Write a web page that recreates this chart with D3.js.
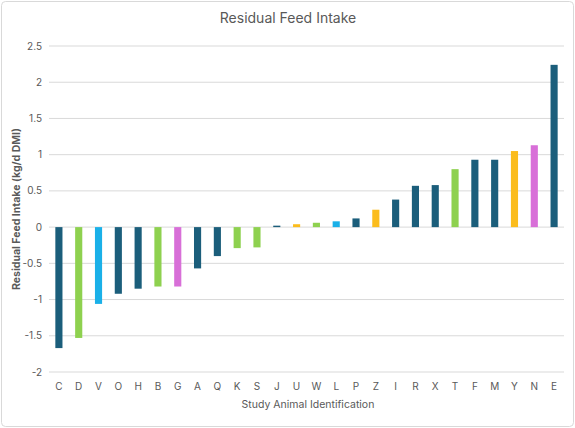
<!DOCTYPE html>
<html><head><meta charset="utf-8">
<script src="https://cdn.jsdelivr.net/npm/d3@7"></script>
<style>body{margin:0;background:#fff;font-family:Inter,"Open Sans",sans-serif}</style>
</head><body><svg id="chart" width="575" height="428"></svg>
<script>
var animals = ["C","D","V","O","H","B","G","A","Q","K","S","J","U","W","L","P","Z","I","R","X","T","F","M","Y","N","E"];
var rfi = [-1.67,-1.53,-1.06,-0.92,-0.85,-0.82,-0.82,-0.57,-0.40,-0.29,-0.28,0.02,0.04,0.06,0.08,0.12,0.24,0.38,0.57,0.58,0.80,0.93,0.93,1.05,1.13,2.24];
var groups = ["dark","green","cyan","dark","dark","green","pink","dark","dark","green","green","dark","yellow","green","cyan","dark","yellow","dark","dark","dark","green","dark","dark","yellow","pink","dark"];
var yTicks = [-2,-1.5,-1,-0.5,0,0.5,1,1.5,2,2.5];

var colors = {dark:"#1b5e7b", green:"#8ed14f", cyan:"#1ab0e8", pink:"#d86fd8", yellow:"#fbbc1c"};
var svg = d3.select("#chart");
svg.append("rect").attr("x",1.5).attr("y",1.5).attr("width",572).attr("height",425)
  .attr("rx",4).attr("fill","#fff").attr("stroke","#d9d9d9");

var x = d3.scaleBand().domain(animals).range([49,564]).paddingInner(0.64).paddingOuter(0.32);
var y = d3.scaleLinear().domain([-2,2.5]).range([372,46]);

svg.append("g").selectAll("line").data(yTicks).enter().append("line")
  .attr("x1",49).attr("x2",564).attr("y1",function(d){return y(d);}).attr("y2",function(d){return y(d);})
  .attr("stroke","#d9d9d9");

svg.append("g").selectAll("text").data(yTicks).enter().append("text")
  .attr("x",42).attr("y",function(d){return y(d)+3.5;}).attr("text-anchor","end")
  .attr("font-size",10).attr("fill","#595959").text(function(d){return d;});

svg.append("g").selectAll("rect").data(rfi).enter().append("rect")
  .attr("x",function(d,i){return x(animals[i]);})
  .attr("width",x.bandwidth())
  .attr("y",function(d){return y(Math.max(0,d));})
  .attr("height",function(d){return Math.abs(y(d)-y(0));})
  .attr("fill",function(d,i){return colors[groups[i]];});

svg.append("g").selectAll("text").data(animals).enter().append("text")
  .attr("x",function(d){return x(d)+x.bandwidth()/2;}).attr("y",390)
  .attr("text-anchor","middle").attr("font-size",10).attr("fill","#595959").text(function(d){return d;});

svg.append("text").attr("x",288).attr("y",23).attr("text-anchor","middle")
  .attr("font-size",14).attr("fill","#595959").text("Residual Feed Intake");
svg.append("text").attr("x",308).attr("y",408).attr("text-anchor","middle")
  .attr("font-size",10.5).attr("fill","#595959").text("Study Animal Identification");
svg.append("text").attr("transform","translate(20,"+y(0.25)+") rotate(-90)").attr("text-anchor","middle")
  .attr("font-size",10.5).attr("font-weight","bold").attr("fill","#595959").text("Residual Feed Intake (kg/d DMI)");
</script></body></html>
